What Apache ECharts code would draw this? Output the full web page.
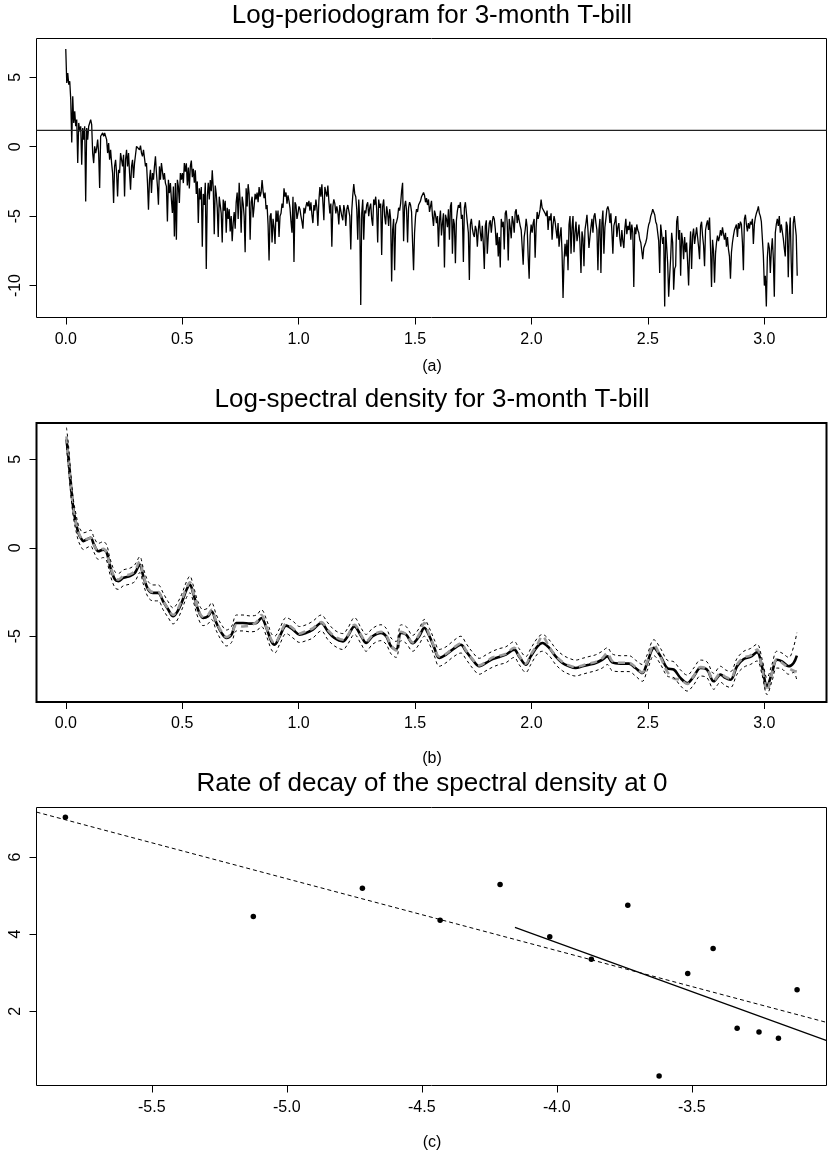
<!DOCTYPE html>
<html><head><meta charset="utf-8">
<script src="https://cdn.jsdelivr.net/npm/echarts@6/dist/echarts.min.js"></script>
<style>html,body{margin:0;padding:0;background:#fff}#c{width:828px;height:1156px}</style>
</head><body><div id="c"></div>
<script>
// ---- (a) log-periodogram, equally spaced Fourier frequencies 0..pi ----
const pgram = [
7.04,4.59,5.31,4.47,4.71,3.39,0.31,3.63,1.71,2.55,
1.47,1.95,-1.18,1.71,1.11,1.47,-1.30,1.35,0.51,1.47,
-3.94,1.35,0.51,1.47,1.71,1.95,1.59,-0.46,-1.18,0.02,
-0.46,-0.10,0.51,-0.46,-2.98,0.75,0.87,0.99,0.75,0.99,
0.87,0.51,-0.46,0.26,-0.94,-0.22,-1.18,-1.90,-4.06,-1.42,
-0.94,-1.90,-3.58,-1.66,-1.90,-0.46,-0.94,-1.42,-0.58,-3.58,
-0.94,-0.22,-1.42,-0.46,-1.90,-3.10,-1.42,-0.94,-2.26,-1.18,
-0.58,0.02,0.14,0.02,-0.22,0.07,-0.46,-0.70,-0.22,-0.82,
-1.42,-1.18,-2.62,-4.54,-2.38,-1.66,-3.34,-1.90,-2.38,-1.42,
-0.70,-1.90,-2.86,-4.18,-1.42,-2.38,-1.18,-1.18,-2.38,-1.90,
-2.62,-2.86,-5.38,-2.38,-3.34,-2.62,-3.82,-4.78,-2.86,-6.46,
-2.62,-6.70,-2.38,-2.86,-4.06,-1.90,-2.38,-1.90,-2.62,-1.18,
-1.8,-1.2,-2.8,-1.5,-3.0,-1.4,-1.0,-2.2,-1.6,-2.6,
-1.7,-3.4,-2.5,-5.5,-3.0,-3.8,-2.9,-7.2,-3.4,-4.2,
-2.6,-8.8,-3.6,-2.6,-3.8,-2.4,-3.2,-1.7,-3.0,-6.3,
-2.8,-3.4,-4.4,-6.5,-3.6,-3.5,-4.8,-6.9,-3.8,-4.6,
-3.9,-6.2,-4.4,-5.2,-4.5,-6.1,-5.0,-6.8,-5.5,-4.7,
-5.9,-4.0,-3.3,-5.2,-2.6,-4.0,-6.2,-3.6,-4.1,-5.0,
-7.6,-3.0,-4.3,-2.7,-3.4,-6.7,-4.0,-3.6,-5.1,-4.3,
-3.4,-3.8,-3.3,-4.0,-2.9,-3.6,-3.3,-2.4,-3.2,-3.7,
-3.3,-4.5,-4.2,-5.6,-8.2,-5.0,-4.8,-6.9,-5.2,-5.8,
-7.0,-4.6,-5.4,-4.6,-6.5,-5.0,-4.8,-4.1,-4.4,-3.0,
-3.6,-3.3,-4.1,-3.5,-3.9,-4.4,-5.4,-6.2,-3.6,-8.3,
-4.0,-4.2,-5.2,-4.8,-4.3,-4.5,-5.0,-5.4,-5.9,-4.4,
-4.8,-4.3,-4.0,
-4.3,-3.9,-4.6,-4.0,-4.9,-5.5,-4.2,-4.6,-3.8,-4.4,
-5.7,-3.9,-2.9,-3.6,-2.7,-4.0,-5.3,-2.9,-3.3,-3.6,
-2.8,-3.9,-4.8,-4.1,-7.2,-4.3,-3.8,-4.1,-4.8,-4.3,
-4.7,-5.6,-4.2,-4.3,-5.0,-5.3,-4.2,-4.6,-5.7,-4.5,
-4.2,-4.6,-5.0,-7.4,-4.6,-3.5,-2.7,-3.4,-3.6,-4.5,
-6.7,-3.8,-5.2,-11.4,-4.8,-3.8,-6.7,-4.6,-4.8,-4.2,
-4.0,-5.0,-4.4,-4.1,-5.2,-5.7,-3.8,-4.2,-3.6,-4.5,
-6.9,-3.8,-4.4,-4.1,-7.8,-4.3,-3.8,-5.0,-5.6,-4.3,
-4.8,-5.7,-4.5,-5.2,-9.7,-6.0,-5.2,-8.9,-5.6,-5.4,
-5.1,-4.4,-4.6,-4.1,-3.2,-2.6,-6.8,-4.3,-3.9,-4.6,
-6.9,-4.4,-4.0,-4.2,-4.7,-6.9,-8.9,-6.2,-5.0,-4.5,
-4.7,-4.2,-4.3,-3.9,-3.6,-3.7,-3.3,-3.5,-4.0,-3.7,
-4.2,-3.8,-4.7,
-4.3,-3.9,-5.0,-5.7,-4.6,-4.9,-5.5,-5.0,-7.2,-5.3,
-4.6,-6.4,-5.5,-4.8,-8.7,-4.9,-5.2,-5.8,-4.5,-6.7,
-4.3,-4.0,-7.7,-5.2,-5.6,-8.4,-5.3,-4.6,-4.2,-4.4,
-4.0,-5.2,-4.9,-8.3,-4.4,-4.0,-3.9,-5.5,-6.2,-9.6,
-5.6,-5.2,-5.9,-6.3,-6.5,-5.7,-6.0,-7.2,-6.0,-5.3,
-6.2,-6.8,-5.7,-7.0,-8.8,-5.7,-5.3,-7.7,-6.4,-5.5,
-5.3,-6.2,-5.4,-5.0,-5.2,-5.9,-7.1,-6.2,-7.9,-6.5,
-8.7,-5.2,-5.8,-5.4,-7.4,-4.8,-4.6,-5.5,-8.2,-5.2,
-5.8,-6.6,-5.0,-5.4,-6.2,-4.7,-4.5,-5.5,-4.9,-4.8,
-5.7,-6.0,-7.2,-8.5,-6.5,-6.0,-5.2,-5.8,-7.9,-9.5,
-6.4,-5.6,-6.2,-5.5,-5.2,-8.0,-5.8,-4.7,-5.2,-4.9,
-4.5,-3.8,-4.4,-4.5,-4.3,-4.8,-5.0,-4.6,-6.0,-5.0,
-5.3,-4.8,-6.7,
-5.6,-5.0,-5.4,-6.0,-6.6,-5.5,-7.2,-6.4,-5.8,-7.6,
-10.9,-8.2,-7.0,-7.9,-6.7,-8.9,-5.6,-5.0,-7.7,-5.8,
-5.0,-7.6,-6.2,-5.4,-6.8,-6.3,-5.6,-7.0,-9.1,-6.1,
-6.6,-8.6,-6.0,-5.5,-4.9,-6.0,-7.3,-6.5,-5.8,-5.2,
-6.2,-5.0,-4.8,-5.5,-6.0,-8.9,-6.0,-5.2,-9.1,-5.5,
-4.6,-7.7,-5.8,-5.2,-4.5,-4.3,-4.6,-5.5,-4.8,-6.1,
-7.7,-5.7,-5.4,-5.0,-6.5,-5.8,-5.5,-6.6,-7.2,-6.0,
-6.8,-7.3,-5.9,-5.2,-6.3,-5.7,-6.0,-5.4,-6.7,-5.6,
-6.2,-10.1,-5.8,-6.3,-5.6,-6.0,-6.2,-6.7,-6.9,-7.0,
-8.1,-7.3,-7.2,-6.9,-6.6,-6.0,-5.6,-5.4,-5.0,-4.8,
-4.5,-4.7,-4.9,-5.4,-5.6,-5.5,-6.8,-9.1,-5.6,-6.3,
-7.0,-6.5,-11.5,-6.0,-7.2,-8.4,-10.8,-9.3,-8.0,-6.2,
-6.9,-10.3,-8.8,
-8.6,-5.4,-5.0,-6.7,-6.0,-9.3,-6.2,-6.8,-8.1,-6.5,
-7.6,-6.9,-8.3,-10.0,-7.5,-6.1,-8.8,-6.4,-5.9,-7.0,
-6.4,-5.8,-6.5,-7.2,-8.1,-5.7,-5.4,-6.4,-7.1,-8.6,
-6.0,-5.6,-5.3,-6.0,-5.1,-7.3,-10.1,-6.7,-7.5,-9.8,
-7.7,-6.9,-6.4,-6.8,-6.5,-6.0,-6.4,-5.8,-6.3,-6.7,
-6.2,-7.2,-6.5,-7.4,-7.9,-9.5,-7.6,-6.9,-6.4,-6.0,
-5.9,-5.6,-6.5,-5.5,-5.9,-5.4,-5.6,-6.9,-8.9,-5.2,
-4.9,-5.6,-6.1,-5.5,-5.9,-5.4,-5.6,-5.2,-7.0,-5.6,
-5.1,-4.8,-4.6,-4.3,-4.8,-5.0,-5.4,-6.6,-7.8,-10.0,
-9.3,-11.5,-8.0,-6.9,-7.3,-9.1,-7.5,-6.6,-8.0,-10.8,
-6.2,-5.6,-5.2,-5.7,-5.0,-6.2,-5.6,-5.5,-6.6,-7.3,
-7.9,-5.4,-5.7,-9.4,-6.3,-5.1,-8.4,-10.6,-5.5,-5.0,
-4.9,-6.4,-9.3
];
const pgramLevel = 1.17;   // horizontal reference line

// ---- (b) log-spectral density estimates ----
const densFreq = [
0.003,0.011,0.021,0.033,0.044,0.054,0.064,0.076,0.090,0.107,
0.121,0.140,0.161,0.176,0.190,0.211,0.226,0.247,0.276,0.297,
0.318,0.333,0.354,0.375,0.397,0.418,0.440,0.461,0.476,0.497,
0.519,0.533,0.547,0.568,0.590,0.611,0.626,0.647,0.669,0.690,
0.712,0.733,0.761,0.790,0.819,0.840,0.862,0.883,0.897,0.919,
0.947,0.976,1.004,1.033,1.061,1.097,1.126,1.154,1.190,1.211,
1.240,1.269,1.290,1.318,1.354,1.376,1.397,1.419,1.440,1.462,
1.490,1.518,1.540,1.562,1.583,1.604,1.633,1.661,1.697,1.719,
1.747,1.776,1.805,1.833,1.862,1.890,1.926,1.947,1.976,1.997,
2.026,2.047,2.076,2.104,2.133,2.162,2.190,2.219,2.247,2.276,
2.304,2.326,2.347,2.383,2.419,2.447,2.476,2.497,2.526,2.555,
2.583,2.612,2.640,2.669,2.697,2.726,2.754,2.783,2.812,2.833,
2.855,2.883,2.912,2.940,2.969,2.990,3.012,3.033,3.054,3.076,
3.105,3.126,3.140];
const densMain = [
6.13,5.19,3.68,2.17,1.41,0.85,0.57,0.38,0.47,0.57,
0.19,-0.19,-0.10,-0.28,-1.04,-1.79,-1.89,-1.70,-1.60,-1.42,
-0.94,-1.60,-2.36,-2.55,-2.55,-3.02,-3.49,-3.87,-3.68,-3.12,
-2.36,-2.08,-2.55,-3.49,-3.97,-3.87,-3.59,-4.25,-4.81,-5.10,
-4.91,-4.25,-4.25,-4.29,-4.25,-3.97,-4.53,-5.29,-5.48,-5.00,
-4.40,-4.63,-4.91,-4.81,-4.63,-4.25,-4.72,-5.10,-5.29,-5.00,
-4.44,-5.00,-5.38,-5.00,-4.81,-5.00,-5.57,-5.76,-4.81,-4.91,
-5.40,-5.00,-4.53,-5.00,-5.66,-6.23,-6.04,-5.76,-5.48,-5.85,
-6.33,-6.70,-6.51,-6.29,-6.17,-6.04,-5.76,-6.14,-6.61,-6.14,
-5.57,-5.38,-5.66,-6.14,-6.51,-6.70,-6.80,-6.70,-6.61,-6.51,
-6.33,-6.14,-6.48,-6.55,-6.55,-6.80,-7.08,-6.51,-5.66,-6.14,
-6.80,-6.89,-7.36,-7.65,-7.27,-6.80,-6.89,-7.55,-7.17,-7.36,
-7.46,-6.70,-6.29,-6.17,-5.91,-6.70,-7.83,-7.08,-6.33,-6.42,
-6.70,-6.51,-6.10];
const densAlt = [
6.3,5.1,3.6,2.1,1.4,0.9,0.6,0.45,0.5,0.55,
0.15,-0.15,-0.05,-0.3,-1.0,-1.7,-1.8,-1.6,-1.5,-1.3,
-0.75,-1.55,-2.3,-2.5,-2.5,-3.0,-3.45,-3.8,-3.6,-3.0,
-2.25,-1.95,-2.5,-3.45,-3.9,-3.8,-3.5,-4.2,-4.75,-5.05,
-4.85,-4.35,-4.45,-4.4,-4.2,-3.8,-4.5,-5.2,-5.4,-4.95,
-4.3,-4.55,-4.85,-4.7,-4.55,-4.2,-4.65,-5.0,-5.2,-4.95,
-4.35,-4.95,-5.3,-4.95,-4.75,-4.95,-5.5,-5.8,-4.75,-4.9,
-5.35,-4.9,-4.25,-4.95,-5.6,-6.15,-6.0,-5.7,-5.4,-5.8,
-6.3,-6.65,-6.45,-6.2,-6.1,-6.0,-5.65,-6.1,-6.55,-6.05,
-5.45,-5.0,-5.6,-6.1,-6.45,-6.65,-6.75,-6.65,-6.55,-6.45,
-6.25,-5.95,-6.4,-6.5,-6.5,-6.75,-7.05,-6.45,-5.5,-6.2,
-7.0,-7.4,-7.45,-7.7,-7.25,-6.75,-6.85,-7.5,-7.1,-7.3,
-7.4,-6.6,-6.2,-6.1,-5.75,-6.8,-8.1,-7.1,-6.3,-6.5,
-6.8,-6.95,-7.0];
const densUpper = [
6.8,5.9,4.3,2.7,1.9,1.3,1.0,0.85,0.9,1.0,
0.6,0.25,0.35,0.15,-0.6,-1.35,-1.45,-1.25,-1.15,-0.95,
-0.5,-1.15,-1.9,-2.1,-2.1,-2.55,-3.05,-3.4,-3.2,-2.65,
-1.9,-1.6,-2.1,-3.05,-3.5,-3.4,-3.1,-3.8,-4.35,-4.65,
-4.45,-3.8,-3.8,-3.85,-3.8,-3.5,-4.05,-4.85,-5.0,-4.55,
-3.95,-4.15,-4.45,-4.35,-4.15,-3.8,-4.25,-4.65,-4.85,-4.55,
-3.95,-4.55,-4.9,-4.55,-4.35,-4.55,-5.1,-5.3,-4.35,-4.45,
-4.95,-4.55,-4.05,-4.55,-5.2,-5.75,-5.6,-5.3,-5.0,-5.4,
-5.9,-6.25,-6.05,-5.85,-5.7,-5.6,-5.3,-5.7,-6.15,-5.7,
-5.1,-4.9,-5.2,-5.7,-6.05,-6.25,-6.35,-6.25,-6.15,-6.05,
-5.85,-5.65,-6.0,-6.1,-6.1,-6.35,-6.6,-6.05,-5.2,-5.7,
-6.35,-6.45,-6.9,-7.2,-6.8,-6.35,-6.45,-7.1,-6.7,-6.9,
-7.0,-6.25,-5.85,-5.7,-5.45,-6.25,-7.35,-6.6,-5.85,-5.95,
-6.2,-5.6,-4.8];
const densLower = [
5.7,4.6,3.1,1.7,0.95,0.4,0.1,-0.1,0.0,0.1,
-0.25,-0.65,-0.55,-0.75,-1.5,-2.25,-2.35,-2.15,-2.05,-1.9,
-1.4,-2.05,-2.8,-3.0,-3.0,-3.5,-3.95,-4.3,-4.15,-3.55,
-2.8,-2.55,-3.0,-3.95,-4.4,-4.3,-4.05,-4.7,-5.25,-5.55,
-5.35,-4.7,-4.7,-4.75,-4.7,-4.45,-5.0,-5.75,-5.95,-5.45,
-4.85,-5.1,-5.35,-5.25,-5.1,-4.7,-5.2,-5.55,-5.75,-5.45,
-4.9,-5.45,-5.85,-5.45,-5.25,-5.45,-6.0,-6.2,-5.25,-5.4,
-5.85,-5.45,-5.0,-5.45,-6.1,-6.7,-6.5,-6.2,-5.95,-6.3,
-6.8,-7.15,-6.95,-6.75,-6.6,-6.5,-6.2,-6.6,-7.05,-6.6,
-6.0,-5.85,-6.1,-6.6,-6.95,-7.15,-7.25,-7.15,-7.05,-6.95,
-6.8,-6.6,-6.95,-7.0,-7.0,-7.25,-7.55,-6.95,-6.1,-6.6,
-7.25,-7.35,-7.8,-8.1,-7.75,-7.25,-7.35,-8.0,-7.6,-7.8,
-7.9,-7.15,-6.75,-6.6,-6.4,-7.15,-8.3,-7.55,-6.8,-6.85,
-7.15,-7.05,-7.5];

// ---- (c) rate of decay at 0 ----
const decayX = [-5.82,-5.124,-4.72,-4.432,-4.21,-4.026,-3.872,-3.737,-3.621,-3.515,-3.421,-3.332,-3.251,-3.179,-3.11];
const decayY = [7.03,4.46,5.19,4.36,5.29,3.93,3.35,4.75,0.32,2.98,3.63,1.56,1.46,1.30,2.56];
const fitAll = [[-5.927, 7.166], [-3.0, 1.71]];
const fitSub = [[-4.155, 4.176], [-3.0, 1.24]];

// tick labels
const freqTicks = [0, 0.5, 1.0, 1.5, 2.0, 2.5, 3.0];
const yTicksA = [-10, -5, 0, 5];
const yTicksB = [-5, 0, 5];
const decayXTicks = [-5.5, -5.0, -4.5, -4.0, -3.5];
const yTicksC = [2, 4, 6];
const titles = ['Log-periodogram for 3-month T-bill', 'Log-spectral density for 3-month T-bill', 'Rate of decay of the spectral density at 0'];
const panelTags = ['(a)', '(b)', '(c)'];

// ---- layout ----
const FONT = '"Liberation Sans", Arial, Helvetica, sans-serif';
const fxMin = -0.1257, fxMax = 3.2673;
const freqs = pgram.map((_, i) => i * Math.PI / (pgram.length - 1));

function xAxis(grid, min, max, ticks) {
  return {
    type: 'value', gridIndex: grid, min, max,
    axisLine: { show: false, onZero: false }, splitLine: { show: false },
    axisTick: { show: true, length: 7, customValues: ticks, lineStyle: { color: '#000', width: 1 } },
    axisLabel: { customValues: ticks, formatter: v => v.toFixed(1), fontSize: 16, fontFamily: FONT, color: '#000', margin: 14 }
  };
}
function yAxis(grid, min, max, ticks) {
  return {
    type: 'value', gridIndex: grid, min, max,
    axisLine: { show: false, onZero: false }, splitLine: { show: false },
    axisTick: { show: true, length: 7, customValues: ticks, lineStyle: { color: '#000', width: 1 } },
    axisLabel: { customValues: ticks, formatter: v => String(v), rotate: 90, fontSize: 16, fontFamily: FONT, color: '#000', margin: 13 }
  };
}
const gridBase = { show: true, backgroundColor: 'transparent', borderColor: '#000', containLabel: false, outerBoundsMode: 'none' };

const option = {
  animation: false,
  backgroundColor: '#fff',
  grid: [
    Object.assign({ left: 36.5, top: 38.5, width: 790, height: 279, borderWidth: 1 }, gridBase),
    Object.assign({ left: 36.5, top: 423, width: 790, height: 279, borderWidth: 2 }, gridBase),
    Object.assign({ left: 36.5, top: 807.5, width: 790, height: 278, borderWidth: 1 }, gridBase)
  ],
  xAxis: [
    xAxis(0, fxMin, fxMax, freqTicks),
    xAxis(1, fxMin, fxMax, freqTicks),
    xAxis(2, -5.927, -3.001, decayXTicks)
  ],
  yAxis: [
    yAxis(0, -12.3, 7.79, yTicksA),
    yAxis(1, -8.72, 7.06, yTicksB),
    yAxis(2, 0.075, 7.285, yTicksC)
  ],
  graphic: [
    ...titles.map((t, i) => ({ type: 'text', x: 432, y: [16, 400, 784][i], style: { text: t, font: '26px ' + FONT, fill: '#000', align: 'center', verticalAlign: 'middle' } })),
    ...panelTags.map((t, i) => ({ type: 'text', x: 432, y: [367, 759, 1143][i], style: { text: t, font: '16px ' + FONT, fill: '#000', align: 'center', verticalAlign: 'middle' } }))
  ],
  series: [
    { type: 'line', xAxisIndex: 0, yAxisIndex: 0, symbol: 'none', data: pgram.map((v, i) => [freqs[i], v]), lineStyle: { color: '#000', width: 1.3 } },
    { type: 'line', xAxisIndex: 0, yAxisIndex: 0, symbol: 'none', data: [[fxMin, pgramLevel], [fxMax, pgramLevel]], lineStyle: { color: '#222', width: 1.2 } },
    { type: 'line', xAxisIndex: 1, yAxisIndex: 1, symbol: 'none', smooth: 0.35, data: densMain.map((v, i) => [densFreq[i], v]), lineStyle: { color: '#000', width: 2.6 } },
    { type: 'line', xAxisIndex: 1, yAxisIndex: 1, symbol: 'none', smooth: 0.35, data: densAlt.map((v, i) => [densFreq[i], v]), lineStyle: { color: '#9a9a9a', width: 2.6, type: [7, 5] } },
    { type: 'line', xAxisIndex: 1, yAxisIndex: 1, symbol: 'none', smooth: 0.35, data: densUpper.map((v, i) => [densFreq[i], v]), lineStyle: { color: '#000', width: 1, type: [3, 3] } },
    { type: 'line', xAxisIndex: 1, yAxisIndex: 1, symbol: 'none', smooth: 0.35, data: densLower.map((v, i) => [densFreq[i], v]), lineStyle: { color: '#000', width: 1, type: [3, 3] } },
    { type: 'line', xAxisIndex: 2, yAxisIndex: 2, symbol: 'none', data: fitAll, lineStyle: { color: '#000', width: 1, type: [4, 3] } },
    { type: 'line', xAxisIndex: 2, yAxisIndex: 2, symbol: 'none', data: fitSub, lineStyle: { color: '#000', width: 1.2 } },
    { type: 'scatter', xAxisIndex: 2, yAxisIndex: 2, symbol: 'circle', symbolSize: 5.5, data: decayX.map((x, i) => [x, decayY[i]]), itemStyle: { color: '#000', opacity: 1 } }
  ]
};
echarts.init(document.getElementById('c'), null, { renderer: 'canvas' }).setOption(option);
</script>
</body></html>
